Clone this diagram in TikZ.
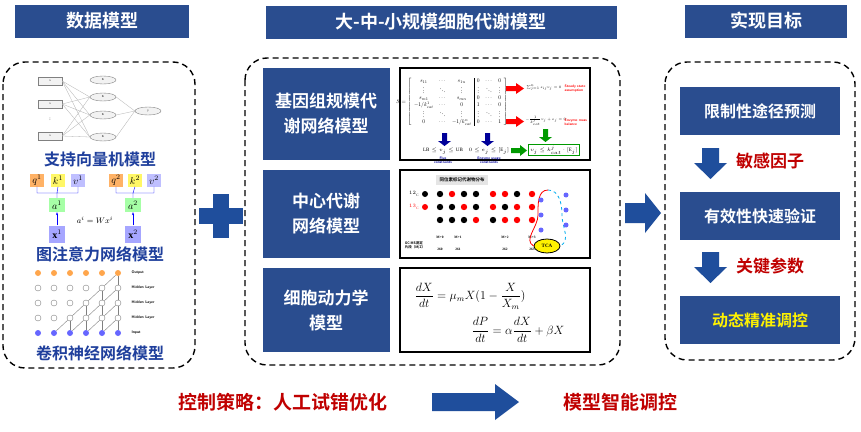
\documentclass[tikz,border=0pt]{standalone}
\usepackage{fontspec}
\usepackage{amsmath,graphicx}
\setmainfont{Liberation Serif}
\newfontfamily\cjk{Noto Sans CJK SC}[BoldFont={Noto Sans CJK SC Bold}]
\usetikzlibrary{shapes.geometric,shapes.arrows,arrows.meta}
\definecolor{hb}{HTML}{2A4D8F}
\definecolor{tb}{HTML}{1F3F9C}
\definecolor{rr}{HTML}{C00000}
\definecolor{pb}{HTML}{1F4E9C}
\begin{document}
\begin{tikzpicture}[x=1pt,y=-1pt,
 head/.style={draw=white,line width=1pt,fill=hb,text=white,font=\cjk\bfseries\fontsize{18}{20}\selectfont,minimum height=34pt},
 dbox/.style={draw,dashed,line width=1.4pt,rounded corners=22pt,dash pattern=on 6pt off 4pt},
 mbox/.style={fill=hb,text=white,font=\cjk\bfseries\fontsize{17}{25}\selectfont,align=center,minimum width=127pt},
 img/.style={draw,line width=1.2pt,fill=white,minimum width=190pt},
 lbl/.style={text=tb,font=\cjk\bfseries\fontsize{16}{18}\selectfont},
 rbox/.style={fill=hb,text=white,font=\cjk\bfseries\fontsize{16}{18}\selectfont,minimum width=160pt,minimum height=48pt},
 rtxt/.style={text=rr,font=\cjk\bfseries\fontsize{17}{19}\selectfont},
 dot/.style={circle,inner sep=0pt,minimum size=6pt},
 tiny/.style={font=\fontsize{3}{3}\selectfont,inner sep=1pt},
 sm/.style={font=\fontsize{5}{6}\selectfont,inner sep=0.5pt},
 st/.style={font=\fontsize{3.6}{4}\selectfont\sffamily\bfseries,align=left,inner sep=0.5pt},
]
\useasboundingbox (0,0) rectangle (861,431);
\fill[white] (0,0) rectangle (861,431);
% headers
\node[head,minimum width=175pt] (h1) at (102,21) {数据模型};
\node[head,minimum width=352pt] (h2) at (441,22) {大-中-小规模细胞代谢模型};
\node[head,minimum width=163pt] (h3) at (766,21) {实现目标};
% dashed boxes
\draw[dbox] (3,62) rectangle (195,368);
\draw[dbox] (245,58) rectangle (620,365);
\draw[dbox] (665,62) rectangle (855,360);
% left: SVM
\foreach \y/\n in {81/i1,104/i2,136/i3}{\node[draw=gray,fill=gray!10,minimum width=24pt,minimum height=8pt,inner sep=0pt,tiny] (\n) at (50,\y) {x};}
\node[font=\tiny] at (50,119) {:};
\foreach \y/\n in {80/m0,97/m1,115/m2,137/m3}{\node[draw=gray,fill=gray!10,ellipse,minimum width=26pt,minimum height=8pt,inner sep=0pt,tiny] (\n) at (103,\y) {K};}
\node[draw=gray,fill=gray!10,ellipse,minimum width=26pt,minimum height=8pt,inner sep=0pt,tiny] (o) at (148,111) {y};
\foreach \a in {i1,i2,i3}{\foreach \b in {m1,m2,m3}{\draw[gray!60,line width=0.3pt] (\a.east) -- (\b.west);}}
\foreach \b in {m1,m2,m3}{\draw[gray!60,line width=0.3pt] (\b.east) -- (o.west);}
\node[lbl] (l1) at (100,159) {支持向量机模型};
% attention
\foreach \x/\t/\c/\n in {37/q^1/orange!60/q1,58/k^1/yellow!60/k1,78/v^1/blue!25/v1,116/q^2/orange!60/q2,135/k^2/yellow!60/k2,154/v^2/blue!25/v2}
 {\node[fill=\c,minimum width=14pt,minimum height=13pt,inner sep=0pt,font=\normalsize] (\n) at (\x,180) {$\t$};}
\node[fill=green!35,minimum width=16pt,minimum height=14pt,inner sep=0pt,font=\normalsize] (a1) at (57,205) {$a^1$};
\node[fill=green!35,minimum width=16pt,minimum height=14pt,inner sep=0pt,font=\normalsize] (a2) at (133,205) {$a^2$};
\node[fill=blue!35,minimum width=16pt,minimum height=17pt,inner sep=0pt,font=\normalsize] (x1) at (57,234) {$\mathbf{x}^1$};
\node[fill=blue!35,minimum width=16pt,minimum height=17pt,inner sep=0pt,font=\normalsize] (x2) at (133,234) {$\mathbf{x}^2$};
\node[font=\footnotesize] (eq) at (95,220) {$a^i = W x^i$};
\draw[blue,-{Stealth[length=3pt]}] (x1) -- (a1);
\draw[blue,-{Stealth[length=3pt]}] (x2) -- (a2);
\draw[blue] (a1.north) -- (57,193) -| (q1.south) (57,193) -| (v1.south) (57,193) -- (k1.south);
\draw[blue] (a2.north) -- (133,193) -| (q2.south) (133,193) -| (v2.south) (133,193) -- (k2.south);
\node[lbl] (l2) at (100,254) {图注意力网络模型};
% CNN
\foreach \i in {0,...,5}{
 \pgfmathsetmacro\xx{38+16*\i}
 \node[dot,fill=orange!70] (c\i-0) at (\xx,273) {};
 \foreach \j in {1,2,3}{\node[dot,draw=gray,fill=white,line width=0.4pt] (c\i-\j) at (\xx,273+15*\j) {};}
 \node[dot,fill=blue!60] (c\i-4) at (\xx,333) {};
}
\foreach \i in {2,...,5}{\draw[gray,line width=0.4pt] (c\i-4) -- (c\i-3);}
\foreach \i in {3,4,5}{\draw[gray,line width=0.4pt] (c\i-3) -- (c\i-2);}
\foreach \i in {4,5}{\draw[gray,line width=0.4pt] (c\i-2) -- (c\i-1);}
\draw[gray,line width=0.4pt] (c5-1) -- (c5-0);
\draw[gray,line width=0.4pt] (c1-4) -- (c2-3) (c2-3) -- (c3-2) (c3-2) -- (c4-1) (c4-1) -- (c5-0)
 (c2-4)--(c3-3) (c3-3)--(c4-2) (c4-2)--(c5-1) (c3-4)--(c4-3) (c4-3)--(c5-2) (c4-4)--(c5-3);
\foreach \j/\t in {0/Output,1/Hidden Layer,2/Hidden Layer,3/Hidden Layer,4/Input}{\node[anchor=west,font=\fontsize{3.8}{4}\selectfont\sffamily\bfseries] (cl\j) at (128,273+15*\j) {\t};}
\node[lbl] (l3) at (100,353) {卷积神经网络模型};
% plus
\fill[pb] (213,194) rectangle (229,238);
\fill[pb] (199,208) rectangle (243,224);
% middle
\node[mbox,minimum height=92pt] (g1) at (326,114) {基因组规模代\\谢网络模型};
\node[mbox,minimum height=88pt] (g2) at (326,214) {中心代谢\\网络模型};
\node[mbox,minimum height=84pt] (g3) at (326,310) {细胞动力学\\模型};
\node[img,minimum height=92pt] (p1) at (495,114) {};
\node[img,minimum height=88pt] (p2) at (495,214) {};
\node[img,minimum height=84pt] (p3) at (495,310) {};
% image 1
\node[inner sep=0pt] (s1) at (452,102) {\scalebox{0.56}{$S=\left[\begin{array}{ccc|ccc} s_{11}&\cdots&s_{1n}&0&\cdots&0\\ \vdots&\ddots&\vdots&\vdots&\ddots&\vdots\\ s_{m1}&\cdots&s_{mn}&0&\cdots&0\\ -1/k^1_{cat}&\cdots&0&1&\cdots&0\\ \vdots&\ddots&\vdots&\vdots&\ddots&\vdots\\ 0&\cdots&-1/k^n_{cat}&0&\cdots&1\end{array}\right]$}};
\fill[red] (506,86) rectangle (516,91) (516,83) -- (524,88.5) -- (516,94) -- cycle;
\fill[red] (506,119) rectangle (516,124) (516,116) -- (524,121.5) -- (516,127) -- cycle;
\node[sm,anchor=west] (e1) at (526,88) {\scalebox{0.7}{$\sum_{j=1}^n s_{ij}v_j=0$}};
\node[sm,anchor=west] (e2) at (525,121) {\scalebox{0.7}{$-\frac{1}{k^j_{cat}}v_j+e_j=0$}};
\node[st,text=red,anchor=west] (e1t) at (564,89) {Steady state\\assumption};
\node[st,text=red,anchor=west] (e2t) at (564,122) {Enzyme mass\\balance};
\fill[blue!60!black] (442,133) rectangle (447,141) (438,141) -- (451,141) -- (444.5,146) -- cycle;
\fill[blue!60!black] (485,133) rectangle (490,141) (481,141) -- (494,141) -- (487.5,146) -- cycle;
\node[sm] (c1) at (443,151) {$\mathrm{LB}\le v_j\le \mathrm{UB}$};
\node[sm] (c2) at (489,151) {$0\le e_j\le [\mathrm{E}_j]$};
\node[st,text=blue!60!black,align=center] (c1t) at (443,160) {Flux\\constraints};
\node[st,text=blue!60!black,align=center] (c2t) at (489,160) {Enzyme usage\\constraints};
\fill[green!60!black] (511,148) rectangle (520,153) (520,145) -- (527,150.5) -- (520,156) -- cycle;
\node[draw=green!60!black,line width=0.8pt,sm,inner sep=1.5pt] (gb) at (554,150) {$v_j\le k^j_{cat}\cdot[\mathrm{E}_j]$};
\fill[green!60!black] (543,129) rectangle (548,137) (539,137) -- (552,137) -- (545.5,142) -- cycle;
% image 2
\node[font=\cjk\fontsize{4.5}{5}\selectfont\bfseries,fill=gray!20] (t2) at (462,180) {同位素标记代谢物分布};
\fill (425,194) circle (3pt); \node[font=\fontsize{3.5}{4}\selectfont] (lc1) at (414,194) {$^{12}$C};
\fill[red] (425,207) circle (3pt); \node[font=\fontsize{3.5}{4}\selectfont,text=red] (lc2) at (414,207) {$^{13}$C};
\foreach \x/\a/\b/\c in {440/black/black/black,452/red/black/black,464/black/red/black,476/black/black/red,493/red/red/black,505/red/black/red,517/black/red/red,532/red/red/red}{
 \fill[\a] (\x,194) circle (3.2pt); \fill[\b] (\x,207) circle (3.2pt); \fill[\c] (\x,220) circle (3.2pt);}
\foreach \x/\m/\n in {440/M+0/260,458/M+1/261,505/M+2/262,532/M+3/263}{
 \node[font=\fontsize{3.5}{4}\selectfont\bfseries] at (\x,237) {\m};
 \node[font=\fontsize{3.5}{4}\selectfont\bfseries] at (\x,249) {\n};}
\node[font=\cjk\fontsize{3.5}{4}\selectfont\bfseries,align=left] (gc) at (415,245) {GC-MS测定\\片段（M/Z）};
\node[draw,ellipse,fill=yellow,line width=0.8pt,minimum width=26pt,minimum height=14pt,inner sep=0pt,font=\fontsize{5}{5}\selectfont\bfseries] (tca) at (547,246) {TCA};
\draw[red,line width=0.8pt] (548,190) to[out=180,in=90] (538,215) to[out=270,in=150] (tca.west);
\draw[cyan,line width=0.8pt,dashed] (548,190) to[out=0,in=90] (562,215) to[out=270,in=30] (tca.east);
\foreach \y in {195,210,225}{\fill[blue!60] (566,\y) circle (2.5pt); \fill[blue!60] (541,\y+5) circle (2.5pt);}
% image 3
\node[font=\large] (k1) at (470,296) {$\dfrac{dX}{dt}=\mu_m X(1-\dfrac{X}{X_m})$};
\node[font=\large] (k2) at (518,330) {$\dfrac{dP}{dt}=\alpha\dfrac{dX}{dt}+\beta X$};
% middle->right arrow
\fill[pb] (625,203) rectangle (645,223) (645,193) -- (661,213) -- (645,233) -- cycle;
% right
\node[rbox] (r1) at (760,111) {限制性途径预测};
\node[rbox] (r2) at (760,216) {有效性快速验证};
\node[rbox,text=yellow] (r3) at (760,320) {动态精准调控};
\fill[pb] (702,148) rectangle (719,163) (694,163) -- (727,163) -- (710.5,179) -- cycle;
\fill[pb] (702,252) rectangle (719,267) (694,267) -- (727,267) -- (710.5,283) -- cycle;
\node[rtxt] (s1t) at (770,161) {敏感因子};
\node[rtxt] (s2t) at (770,266) {关键参数};
% bottom
\node[rtxt,font=\cjk\bfseries\fontsize{19}{21}\selectfont] (b1) at (283,402) {控制策略：人工试错优化};
\fill[pb] (432,393) rectangle (495,411) (495,384) -- (519,402) -- (495,420) -- cycle;
\node[rtxt,font=\cjk\bfseries\fontsize{19}{21}\selectfont] (b2) at (620,402) {模型智能调控};
\end{tikzpicture}
\end{document}
